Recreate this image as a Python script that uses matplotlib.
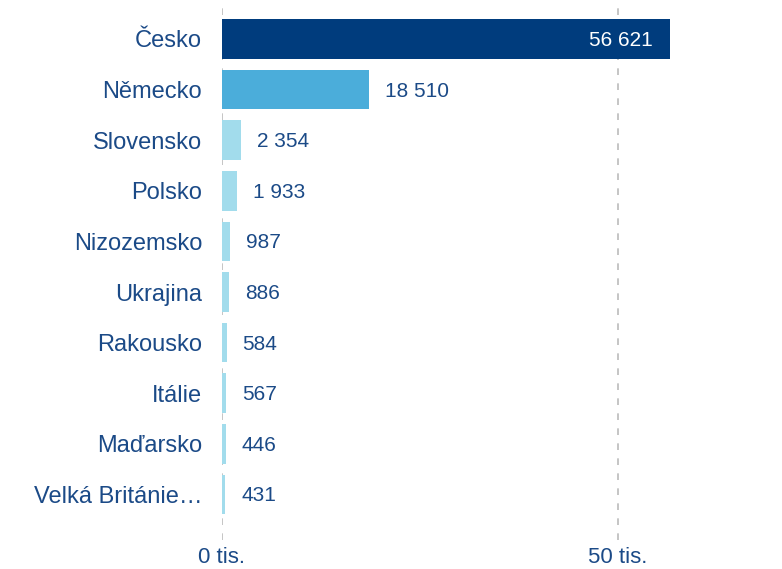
import matplotlib
matplotlib.use("Agg")
import matplotlib.pyplot as plt

countries = ["Česko", "Německo", "Slovensko", "Polsko", "Nizozemsko", "Ukrajina",
             "Rakousko", "Itálie", "Maďarsko", "Velká Británie…"]
values = [56621, 18510, 2354, 1933, 987, 886, 584, 567, 446, 431]
xticks = [0, 50000]
xtick_labels = ["0 tis.", "50 tis."]

colors = ["#003C7D", "#4BADDA"] + ["#A2DCEC"] * (len(values) - 2)
text_color = "#1B4A87"

plt.rcParams['font.family'] = ['Liberation Sans', 'DejaVu Sans']

fig = plt.figure(figsize=(7.82, 5.69), dpi=100)
ax_left = 222 / 782
ax_right = 700 / 782
ax_bottom = 1 - 540 / 569
ax = fig.add_axes([ax_left, ax_bottom, ax_right - ax_left, 1 - ax_bottom])

px_per_unit = 396 / 50000
ax.set_xlim(0, (700 - 222) / px_per_unit)
ax.set_ylim(9.90, -0.77)

ypos = list(range(len(values)))
ax.barh(ypos, values, height=0.78, color=colors, zorder=2)

for x in xticks:
    ax.axvline(x, color="#BBBBBB", linestyle=(0, (4, 5)), linewidth=1.2, zorder=1)

for y, v in zip(ypos, values):
    s = f"{v:,}".replace(",", " ")
    if y == 0:
        ax.text(v - 18 / px_per_unit, y + 0.03, s, color="white", ha="right", va="center", fontsize=15)
    else:
        ax.text(v + 16 / px_per_unit, y + 0.03, s, color=text_color, ha="left", va="center", fontsize=15)

ax.set_yticks(ypos)
ax.set_yticklabels(countries, color=text_color, fontsize=17)
ax.tick_params(axis="y", length=0, pad=14.4)
ax.set_xticks(xticks)
ax.set_xticklabels(xtick_labels, color=text_color, fontsize=16)
ax.tick_params(axis="x", length=0, pad=5)
for sp in ax.spines.values():
    sp.set_visible(False)
ax.set_facecolor("white")

fig.savefig("out.png", dpi=100)
